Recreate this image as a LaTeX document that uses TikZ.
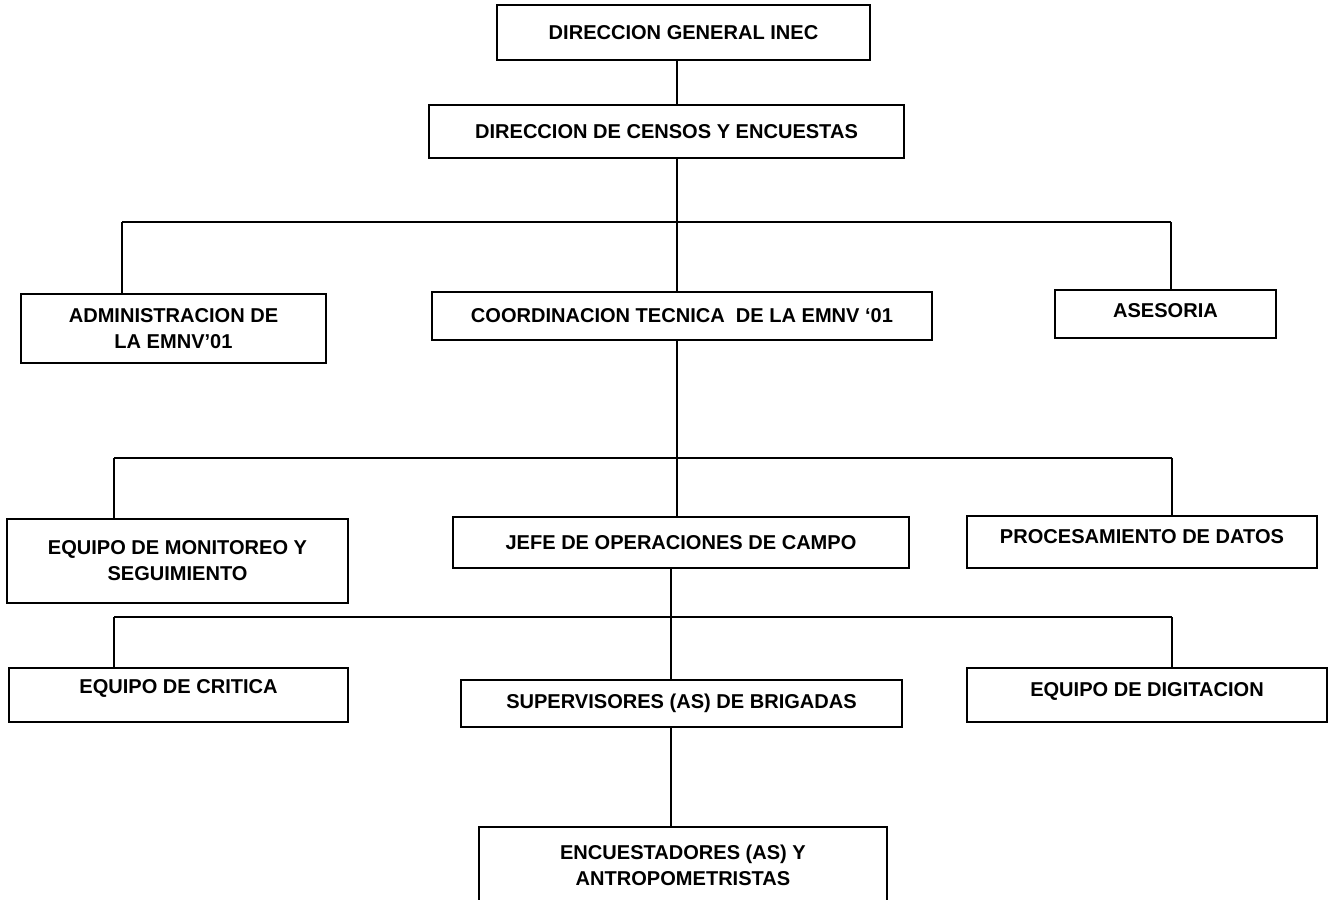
\documentclass[tikz,border=0pt]{standalone}
\usepackage{fontspec}
\setmainfont{Liberation Sans}

\begin{document}
\begin{tikzpicture}[x=0.01cm, y=-0.01cm,
  box/.style={rectangle, draw, line width=0.6pt, inner sep=0pt, align=center,
    font=\bfseries\fontsize{5.7}{7.4}\selectfont},
  lift/.style={text depth=#1},
  link/.style={line width=0.6pt}]

\clip (0,0) rectangle (1329,900);
\useasboundingbox (0,0) rectangle (1329,900);

% Nodes
\node (direccion) [box, minimum width=3.73cm, minimum height=0.55cm] at (683.5,32.5) {DIRECCION GENERAL INEC};
\node (censos) [box, minimum width=4.75cm, minimum height=0.53cm] at (666.5,131.5) {DIRECCION DE CENSOS Y ENCUESTAS};
\node (admin) [box, minimum width=3.05cm, minimum height=0.69cm] at (173.5,328.5) {ADMINISTRACION DE\\LA EMNV'01};
\node (coord) [box, minimum width=5.00cm, minimum height=0.48cm] at (682,316) {COORDINACION TECNICA\ \ DE LA EMNV `01};
\node (asesoria) [box, lift=1.8pt, minimum width=2.21cm, minimum height=0.48cm] at (1165.5,314) {ASESORIA};
\node (monitoreo) [box, minimum width=3.41cm, minimum height=0.84cm] at (177.5,561) {EQUIPO DE MONITOREO Y\\SEGUIMIENTO};
\node (jefe) [box, minimum width=4.56cm, minimum height=0.51cm] at (681,542.5) {JEFE DE OPERACIONES DE CAMPO};
\node (procesamiento) [box, lift=2.9pt, minimum width=3.50cm, minimum height=0.52cm] at (1142,542) {PROCESAMIENTO DE DATOS};
\node (critica) [box, lift=4.6pt, minimum width=3.39cm, minimum height=0.54cm] at (178.5,695) {EQUIPO DE CRITICA};
\node (supervisores) [box, minimum width=4.41cm, minimum height=0.47cm] at (681.5,703.5) {SUPERVISORES (AS) DE BRIGADAS};
\node (digitacion) [box, lift=2.9pt, minimum width=3.60cm, minimum height=0.54cm] at (1147,695) {EQUIPO DE DIGITACION};
\node (encuestadores) [box, minimum width=4.08cm, minimum height=0.76cm] at (683,865) {ENCUESTADORES (AS) Y\\ANTROPOMETRISTAS};

% Bus points
\coordinate (axisA) at (677,0);
\coordinate (axisB) at (671,0);
\coordinate (busAL) at (122,222);
\coordinate (busAR) at (1171,222);
\coordinate (busBL) at (114,458);
\coordinate (busBR) at (1172,458);
\coordinate (busCL) at (114,617);
\coordinate (busCR) at (1172,617);

% Lines
\draw[link] (direccion.south -| axisA) -- (censos.north -| axisA);
\draw[link] (censos.south -| axisA) -- (coord.north -| axisA);
\draw[link] (busAL) -- (busAR);
\draw[link] (busAL) -- (busAL |- admin.north);
\draw[link] (busAR) -- (busAR |- asesoria.north);

\draw[link] (coord.south -| axisA) -- (jefe.north -| axisA);
\draw[link] (busBL) -- (busBR);
\draw[link] (busBL) -- (busBL |- monitoreo.north);
\draw[link] (busBR) -- (busBR |- procesamiento.north);

\draw[link] (jefe.south -| axisB) -- (supervisores.north -| axisB);
\draw[link] (busCL) -- (busCR);
\draw[link] (busCL) -- (busCL |- critica.north);
\draw[link] (busCR) -- (busCR |- digitacion.north);
\draw[link] (supervisores.south -| axisB) -- (encuestadores.north -| axisB);

\end{tikzpicture}
\end{document}
